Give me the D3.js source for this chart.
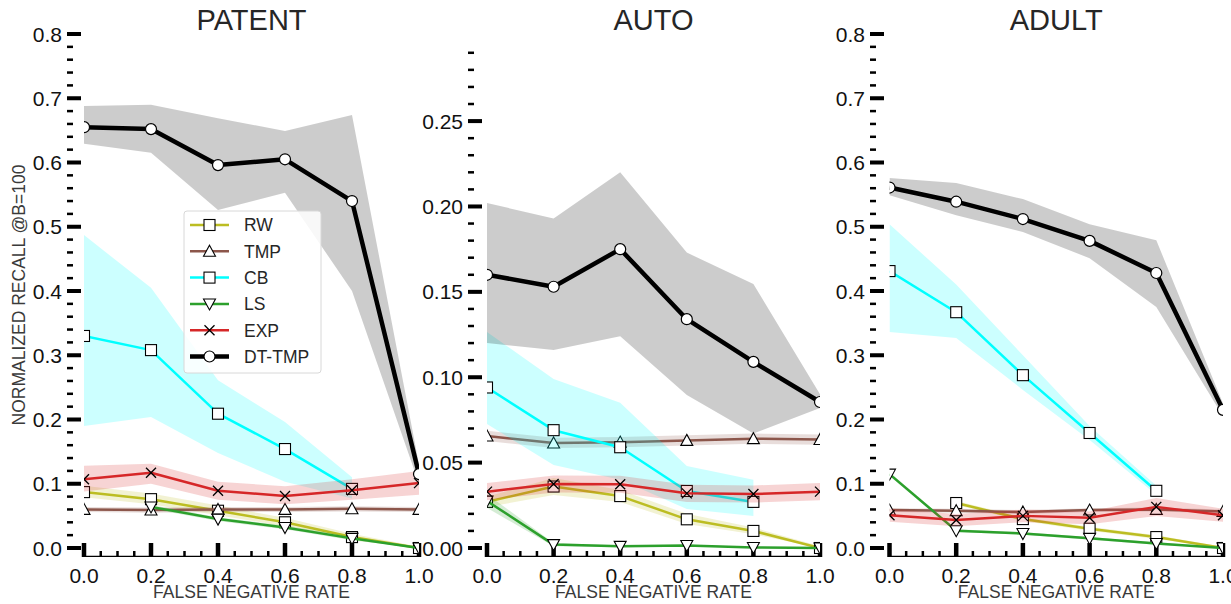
<!DOCTYPE html>
<html><head><meta charset="utf-8">
<script src="https://cdn.jsdelivr.net/npm/d3@7"></script>
<style>body{margin:0;background:#fff} svg{display:block;font-family:"Liberation Sans",Arial,sans-serif}</style>
</head><body><svg id="c" width="1231" height="604"></svg>
<script>
// ---------- data ----------
const fnr = [0.0, 0.2, 0.4, 0.6, 0.8, 1.0];
const xTickLabels = ["0.0", "0.2", "0.4", "0.6", "0.8", "1.0"];
const xMinorTicks = [0.05,0.1,0.15,0.25,0.3,0.35,0.45,0.5,0.55,0.65,0.7,0.75,0.85,0.9,0.95];
const seriesNames = ["RW", "TMP", "CB", "LS", "EXP", "DT-TMP"];
const panelTitles = ["PATENT", "AUTO", "ADULT"];
const yTicksWide = [0, 0.1, 0.2, 0.3, 0.4, 0.5, 0.6, 0.7, 0.8];
const yTickLabelsWide = ["0.0","0.1","0.2","0.3","0.4","0.5","0.6","0.7","0.8"];
const yTicksAuto = [0, 0.05, 0.10, 0.15, 0.20, 0.25];
const yTickLabelsAuto = ["0.00","0.05","0.10","0.15","0.20","0.25"];
const xLabel = "FALSE NEGATIVE RATE";
const yLabel = "NORMALIZED RECALL @B=100";

// PATENT
const patentRW    = [0.087, 0.076, 0.058, 0.040, 0.017, 0.000];
const patentRWLo  = [0.079, 0.068, 0.051, 0.034, 0.012, 0.000];
const patentRWHi  = [0.097, 0.085, 0.066, 0.047, 0.022, 0.002];
const patentTMP   = [0.060, 0.059, 0.060, 0.060, 0.061, 0.060];
const patentTMPLo = [0.056, 0.055, 0.056, 0.056, 0.057, 0.056];
const patentTMPHi = [0.064, 0.063, 0.064, 0.064, 0.065, 0.064];
const patentCB    = [0.330, 0.308, 0.209, 0.154, 0.092, null];
const patentCBLo  = [0.190, 0.204, 0.148, 0.103, 0.077, null];
const patentCBHi  = [0.487, 0.405, 0.261, 0.196, 0.110, null];
const patentLS    = [null, 0.064, 0.045, 0.032, 0.015, 0.000];
const patentLSLo  = [null, 0.061, 0.042, 0.029, 0.012, 0.000];
const patentLSHi  = [null, 0.067, 0.048, 0.035, 0.018, 0.002];
const patentEXP   = [0.107, 0.117, 0.089, 0.081, 0.090, 0.101];
const patentEXPLo = [0.088, 0.100, 0.075, 0.068, 0.075, 0.083];
const patentEXPHi = [0.128, 0.131, 0.103, 0.096, 0.107, 0.120];
const patentDT    = [0.655, 0.652, 0.596, 0.605, 0.540, 0.115];
const patentDTLo  = [0.629, 0.615, 0.526, 0.553, 0.400, 0.100];
const patentDTHi  = [0.688, 0.690, 0.669, 0.649, 0.674, 0.130];

// AUTO
const autoRW    = [0.027, 0.036, 0.0304, 0.0168, 0.010, 0.000];
const autoRWLo  = [0.024, 0.031, 0.027, 0.014, 0.008, 0.000];
const autoRWHi  = [0.030, 0.041, 0.034, 0.020, 0.012, 0.001];
const autoTMP   = [0.0656, 0.0615, 0.062, 0.063, 0.064, 0.0635];
const autoTMPLo = [0.0626, 0.0585, 0.059, 0.060, 0.061, 0.0605];
const autoTMPHi = [0.0686, 0.0645, 0.065, 0.066, 0.067, 0.0665];
const autoCB    = [0.094, 0.069, 0.059, 0.0334, 0.027, null];
const autoCBLo  = [0.0726, 0.0486, 0.040, 0.0228, 0.0187, null];
const autoCBHi  = [0.1265, 0.099, 0.085, 0.048, 0.040, null];
const autoLS    = [0.0275, 0.002, 0.001, 0.0015, 0.0003, 0.000];
const autoLSLo  = [0.0235, 0.001, 0.0005, 0.001, 0.000, 0.000];
const autoLSHi  = [0.0315, 0.003, 0.0015, 0.002, 0.0006, 0.0003];
const autoEXP   = [0.033, 0.0375, 0.0373, 0.032, 0.0316, 0.033];
const autoEXPLo = [0.028, 0.0325, 0.0323, 0.027, 0.0266, 0.028];
const autoEXPHi = [0.038, 0.0425, 0.0423, 0.037, 0.0366, 0.038];
const autoDT    = [0.160, 0.153, 0.175, 0.134, 0.109, 0.0855];
const autoDTLo  = [0.120, 0.116, 0.124, 0.0896, 0.067, 0.082];
const autoDTHi  = [0.202, 0.193, 0.220, 0.173, 0.1546, 0.090];

// ADULT
const adultRW    = [null, 0.070, 0.045, 0.030, 0.017, 0.000];
const adultRWLo  = [null, 0.067, 0.042, 0.027, 0.014, 0.000];
const adultRWHi  = [null, 0.073, 0.048, 0.033, 0.020, 0.002];
const adultTMP   = [0.059, 0.058, 0.056, 0.059, 0.060, 0.057];
const adultTMPLo = [0.056, 0.055, 0.053, 0.056, 0.057, 0.054];
const adultTMPHi = [0.062, 0.061, 0.059, 0.062, 0.063, 0.060];
const adultCB    = [0.431, 0.367, 0.269, 0.179, 0.089, null];
const adultCBLo  = [0.336, 0.327, 0.246, 0.168, 0.083, null];
const adultCBHi  = [0.504, 0.410, 0.300, 0.190, 0.097, null];
const adultLS    = [0.115, 0.027, 0.0226, 0.015, 0.007, 0.000];
const adultLSLo  = [0.112, 0.025, 0.0206, 0.013, 0.005, 0.000];
const adultLSHi  = [0.118, 0.029, 0.0246, 0.017, 0.009, 0.002];
const adultEXP   = [0.051, 0.0436, 0.050, 0.047, 0.064, 0.051];
const adultEXPLo = [0.041, 0.034, 0.040, 0.037, 0.050, 0.041];
const adultEXPHi = [0.061, 0.053, 0.060, 0.057, 0.078, 0.061];
const adultDT    = [0.561, 0.539, 0.512, 0.478, 0.428, 0.215];
const adultDTLo  = [0.549, 0.518, 0.492, 0.451, 0.375, 0.205];
const adultDTHi  = [0.576, 0.568, 0.543, 0.504, 0.479, 0.225];

// ---------- styles ----------
const styles = {
  "RW":     {color: "#bcbd22", marker: "square",  lw: 2.5},
  "TMP":    {color: "#8c564b", marker: "tri_up",  lw: 2.5},
  "CB":     {color: "#00ffff", marker: "square",  lw: 2.5},
  "LS":     {color: "#2ca02c", marker: "tri_down",lw: 2.5},
  "EXP":    {color: "#d62728", marker: "x",       lw: 2.5},
  "DT-TMP": {color: "#000000", marker: "circle",  lw: 4.5}
};

const panels = [
  {title: panelTitles[0], x0: 84, x1: 419, spine: 67, yMax: 0.8,
   yTicks: yTicksWide, yLabels: yTickLabelsWide, minorStep: 0.02, minorMax: 0.79, yAxisLabel: true,
   series: {"RW":[patentRW,patentRWLo,patentRWHi],"TMP":[patentTMP,patentTMPLo,patentTMPHi],
            "CB":[patentCB,patentCBLo,patentCBHi],"LS":[patentLS,patentLSLo,patentLSHi],
            "EXP":[patentEXP,patentEXPLo,patentEXPHi],"DT-TMP":[patentDT,patentDTLo,patentDTHi]}},
  {title: panelTitles[1], x0: 487, x1: 820, spine: 468, yMax: 0.301,
   yTicks: yTicksAuto, yLabels: yTickLabelsAuto, minorStep: 0.01, minorMax: 0.295, yAxisLabel: false,
   series: {"RW":[autoRW,autoRWLo,autoRWHi],"TMP":[autoTMP,autoTMPLo,autoTMPHi],
            "CB":[autoCB,autoCBLo,autoCBHi],"LS":[autoLS,autoLSLo,autoLSHi],
            "EXP":[autoEXP,autoEXPLo,autoEXPHi],"DT-TMP":[autoDT,autoDTLo,autoDTHi]}},
  {title: panelTitles[2], x0: 889.5, x1: 1223, spine: 870, yMax: 0.8,
   yTicks: yTicksWide, yLabels: yTickLabelsWide, minorStep: 0.02, minorMax: 0.79, yAxisLabel: false,
   series: {"RW":[adultRW,adultRWLo,adultRWHi],"TMP":[adultTMP,adultTMPLo,adultTMPHi],
            "CB":[adultCB,adultCBLo,adultCBHi],"LS":[adultLS,adultLSLo,adultLSHi],
            "EXP":[adultEXP,adultEXPLo,adultEXPHi],"DT-TMP":[adultDT,adultDTLo,adultDTHi]}}
];

const svg = d3.select("#c");
const Y0 = 548, YTOP = 34, XAXIS = 557;
const textCol = "#262626";

function drawMarker(g, type, cx, cy, st) {
  if (type === "square") {
    const s = 11;
    g.append("rect").attr("x", cx - s/2).attr("y", cy - s/2).attr("width", s).attr("height", s)
      .attr("fill", "#fff").attr("stroke", "#000").attr("stroke-width", 1.1);
  } else if (type === "tri_up" || type === "tri_down") {
    const h = 11, w = 12, d = type === "tri_up" ? 1 : -1;
    const p = d3.path();
    p.moveTo(cx, cy - d*h*0.55); p.lineTo(cx + w/2, cy + d*h*0.45); p.lineTo(cx - w/2, cy + d*h*0.45); p.closePath();
    g.append("path").attr("d", p.toString()).attr("fill", "#fff").attr("stroke", "#000").attr("stroke-width", 1.1);
  } else if (type === "x") {
    const r = 5;
    g.append("path").attr("d", `M${cx-r},${cy-r}L${cx+r},${cy+r}M${cx-r},${cy+r}L${cx+r},${cy-r}`)
      .attr("stroke", "#000").attr("stroke-width", 1.3).attr("fill", "none");
  } else if (type === "circle") {
    g.append("circle").attr("cx", cx).attr("cy", cy).attr("r", 5.5)
      .attr("fill", "#fff").attr("stroke", "#000").attr("stroke-width", 1.2);
  }
}

panels.forEach((P, pi) => {
  const x = d3.scaleLinear().domain([0, 1]).range([P.x0, P.x1]);
  const y = d3.scaleLinear().domain([0, P.yMax]).range([Y0, YTOP]);
  const clipId = "clip" + pi;
  svg.append("clipPath").attr("id", clipId).append("rect")
    .attr("x", P.x0).attr("y", 0).attr("width", P.x1 - P.x0).attr("height", XAXIS + 2);

  // title
  svg.append("text").attr("x", (P.x0 + P.x1) / 2).attr("y", 30).attr("text-anchor", "middle")
    .attr("font-size", 29).attr("fill", textCol).text(P.title);

  // y ticks
  const ya = svg.append("g");
  const minors = d3.range(0, P.minorMax, P.minorStep).filter(v => !P.yTicks.some(t => Math.abs(t - v) < 1e-6));
  minors.forEach(v => ya.append("rect").attr("x", P.spine).attr("y", y(v) - 1.25).attr("width", 6).attr("height", 2.5).attr("fill", "#000"));
  P.yTicks.forEach((v, i) => {
    ya.append("rect").attr("x", P.spine).attr("y", y(v) - 2).attr("width", 14).attr("height", 4).attr("fill", "#000");
    ya.append("text").attr("x", P.spine - 5).attr("y", y(v)).attr("dy", "0.36em").attr("text-anchor", "end")
      .attr("font-size", 21).attr("fill", "#111").text(P.yLabels[i]);
  });

  // x ticks
  const xa = svg.append("g");
  xa.append("line").attr("x1", P.x0).attr("x2", P.x1).attr("y1", XAXIS - 0.6).attr("y2", XAXIS - 0.6)
    .attr("stroke", "#000").attr("stroke-width", 1.2);
  xMinorTicks.forEach(v => xa.append("rect").attr("x", x(v) - 1.25).attr("y", XAXIS - 6).attr("width", 2.5).attr("height", 6).attr("fill", "#000"));
  fnr.forEach((v, i) => {
    xa.append("rect").attr("x", x(v) - 2.25).attr("y", XAXIS - 14).attr("width", 4.5).attr("height", 14).attr("fill", "#000");
    xa.append("text").attr("x", x(v)).attr("y", 583).attr("text-anchor", "middle")
      .attr("font-size", 21).attr("fill", "#111").text(xTickLabels[i]);
  });
  svg.append("text").attr("x", (P.x0 + P.x1) / 2).attr("y", 598).attr("text-anchor", "middle")
    .attr("font-size", 17.5).attr("fill", "#3a3a3a").text(xLabel);
  if (P.yAxisLabel) {
    svg.append("text").attr("transform", "translate(25,295) rotate(-90)").attr("text-anchor", "middle")
      .attr("font-size", 17.5).attr("fill", "#3a3a3a").text(yLabel);
  }

  // series
  const plot = svg.append("g").attr("clip-path", `url(#${clipId})`);
  seriesNames.forEach(name => {
    const st = styles[name];
    const [mean, lo, hi] = P.series[name];
    const pts = fnr.map((f, i) => ({f, m: mean[i], lo: lo[i], hi: hi[i]})).filter(d => d.m != null);
    const area = d3.area().x(d => x(d.f)).y0(d => y(d.lo)).y1(d => y(d.hi));
    plot.append("path").datum(pts).attr("d", area).attr("fill", st.color).attr("fill-opacity", 0.2);
    const line = d3.line().x(d => x(d.f)).y(d => y(d.m));
    plot.append("path").datum(pts).attr("d", line).attr("fill", "none").attr("stroke", st.color)
      .attr("stroke-width", st.lw).attr("stroke-linejoin", "round");
    const mg = plot.append("g");
    pts.forEach(d => drawMarker(mg, st.marker, x(d.f), y(d.m), st));
  });
});

// legend
const lg = svg.append("g");
lg.append("rect").attr("x", 184).attr("y", 211).attr("width", 137).attr("height", 162).attr("rx", 3)
  .attr("fill", "#fff").attr("fill-opacity", 0.85).attr("stroke", "#d8d8d8").attr("stroke-width", 1);
seriesNames.forEach((name, i) => {
  const st = styles[name];
  const ly = 225 + i * 26.3;
  lg.append("line").attr("x1", 190).attr("x2", 229).attr("y1", ly).attr("y2", ly)
    .attr("stroke", st.color).attr("stroke-width", name === "DT-TMP" ? 4.5 : 2.5);
  drawMarker(lg, st.marker, 209.5, ly, st);
  lg.append("text").attr("x", 244).attr("y", ly).attr("dy", "0.36em").attr("font-size", 17.5)
    .attr("fill", textCol).text(name);
});
</script></body></html>
